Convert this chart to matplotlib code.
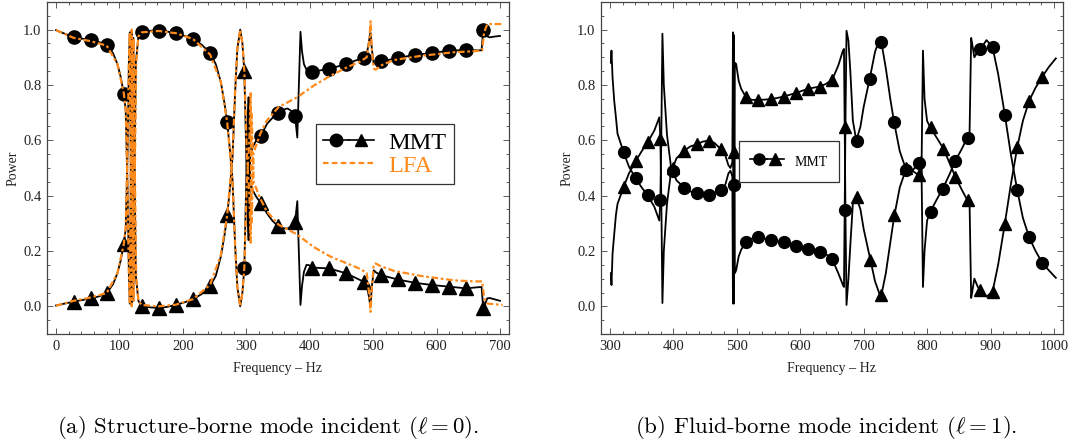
import matplotlib
matplotlib.use('Agg')
import matplotlib.pyplot as plt
from matplotlib.lines import Line2D
from matplotlib.legend_handler import HandlerTuple
from matplotlib.ticker import MultipleLocator, FormatStrFormatter

plt.rcParams['font.family'] = 'Liberation Serif'
plt.rcParams['mathtext.fontset'] = 'cm'

orange = '#ff8a1c'
frame_col = '#444444'

# ---------------- (a) structure-borne incident ----------------
# marker positions (every ~27 Hz)
a_mark_f = [28, 55, 80, 107, 135, 162, 189, 216, 243, 270, 297, 323, 350,
            377, 404, 431, 458, 485, 512, 539, 566, 593, 620, 647, 674]
a_mark_circ = [0.972, 0.962, 0.944, 0.768, 0.992, 0.996, 0.987, 0.966, 0.915,
               0.665, 0.139, 0.617, 0.698, 0.686, 0.848, 0.858, 0.876, 0.899,
               0.885, 0.897, 0.909, 0.915, 0.924, 0.926, 0.998]
a_mark_tri = [0.017, 0.029, 0.047, 0.224, 0.0, -0.007, 0.005, 0.025, 0.073,
              0.329, 0.849, 0.373, 0.29, 0.305, 0.14, 0.137, 0.119, 0.089,
              0.113, 0.097, 0.085, 0.077, 0.071, 0.065, -0.005]

# MMT curves
a_f = [0, 14, 28, 42, 55, 68, 80, 90, 97, 102,
       107, 110, 113, 115, 116.5, 118, 119.3, 120.5, 122, 124,
       126, 130, 135, 150, 162, 175, 189, 202, 216, 230,
       243, 252, 260, 266, 270, 274.5, 278.4, 282.6, 286, 290.5,
       294, 297, 300, 303.3, 304.2, 306.3, 310, 316, 323, 333,
       341, 350, 358, 365, 372, 377, 380.5, 385.5, 388, 391,
       395, 400, 404, 431, 458, 485, 490, 493, 495.8, 498,
       501, 505, 512, 539, 566, 593, 620, 647, 660, 671,
       673.5, 676, 680, 684, 692, 700]
a_circ = [0.998, 0.985, 0.972, 0.967, 0.962, 0.955, 0.944, 0.915, 0.875, 0.83,
          0.768, 0.71, 0.42, 0.12, 0.01, 0.45, 0.995, 0.5, 0.02, 0.5,
          0.88, 0.975, 0.992, 0.996, 0.996, 0.993, 0.987, 0.978, 0.966, 0.945,
          0.915, 0.875, 0.81, 0.73, 0.665, 0.56, 0.455, 0.215, 0.07, 0.0,
          0.05, 0.139, 0.45, 0.755, 0.24, 0.545, 0.575, 0.6, 0.617, 0.66,
          0.68, 0.698, 0.71, 0.715, 0.705, 0.686, 0.61, 0.992, 0.92, 0.875,
          0.855, 0.85, 0.848, 0.858, 0.876, 0.899, 0.91, 0.95, 0.99, 0.93,
          0.876, 0.88, 0.885, 0.897, 0.909, 0.915, 0.924, 0.926, 0.925, 0.925,
          0.998, 0.99, 0.975, 0.972, 0.975, 0.977]
a_tri = [0.003, 0.01, 0.017, 0.023, 0.029, 0.036, 0.047, 0.08, 0.12, 0.165,
         0.224, 0.28, 0.56, 0.88, 0.99, 0.52, 0.005, 0.49, 0.97, 0.48,
         0.11, 0.02, 0.0, -0.004, -0.006, -0.002, 0.005, 0.014, 0.025, 0.045,
         0.073, 0.11, 0.18, 0.26, 0.329, 0.43, 0.54, 0.78, 0.93, 1.0,
         0.95, 0.849, 0.55, 0.24, 0.755, 0.45, 0.42, 0.395, 0.373, 0.335,
         0.31, 0.29, 0.282, 0.281, 0.29, 0.305, 0.38, 0.005, 0.075, 0.125,
         0.15, 0.148, 0.14, 0.137, 0.119, 0.089, 0.075, 0.04, 0.0, 0.07,
         0.13, 0.122, 0.113, 0.097, 0.085, 0.077, 0.071, 0.065, 0.068, 0.07,
         -0.005, 0.005, 0.029, 0.03, 0.025, 0.02]

# LFA curves
lfa_f = [0, 28, 55, 80, 97, 107, 110, 113, 115, 116.5,
         118, 119.5, 121, 122.5, 124.5, 126.5, 130, 135, 162, 189,
         216, 243, 260, 270, 278.4, 282.6, 286, 290.5, 294, 297,
         301, 305, 307, 308.5, 311.6, 322, 332, 351, 380, 406,
         432.6, 459, 480, 490, 494, 496, 498, 501, 504, 512,
         533, 575, 627, 660, 672, 675, 680, 704]
lfa_up = [0.998, 0.97, 0.958, 0.942, 0.875, 0.77, 0.71, 0.42, 0.12, 0.01,
          0.45, 1.0, 0.5, 0.02, 0.5, 0.88, 0.975, 0.99, 0.995, 0.987,
          0.966, 0.91, 0.81, 0.665, 0.455, 0.215, 0.07, 0.0, 0.05, 0.14,
          0.45, 0.6, 0.77, 0.3, 0.555, 0.623, 0.67, 0.72, 0.755, 0.797,
          0.833, 0.864, 0.885, 0.9, 0.96, 1.03, 0.93, 0.86, 0.855, 0.87,
          0.89, 0.905, 0.918, 0.922, 0.925, 0.99, 1.02, 1.02]
lfa_lo = [0.002, 0.02, 0.032, 0.048, 0.12, 0.225, 0.285, 0.57, 0.88, 0.99,
          0.52, 0.0, 0.49, 0.97, 0.48, 0.11, 0.02, 0.005, 0.0, 0.006,
          0.026, 0.078, 0.185, 0.33, 0.545, 0.785, 0.93, 1.0, 0.95, 0.85,
          0.55, 0.4, 0.23, 0.7, 0.45, 0.39, 0.345, 0.295, 0.26, 0.215,
          0.18, 0.155, 0.135, 0.12, 0.04, -0.02, 0.07, 0.15, 0.155, 0.145,
          0.128, 0.11, 0.094, 0.09, 0.09, 0.03, 0.01, 0.005]

# ---------------- (b) fluid-borne incident ----------------
b_mark_f = [321.6, 340.5, 359.5, 379, 399, 417.4, 436.9, 455.8, 475.3, 495.3,
            514.7, 534.2, 554.3, 573.7, 592.7, 612.2, 630.5, 650.5, 670, 689.5,
            709.5, 728, 748, 767.4, 787, 805.8, 825.4, 844.8, 864.8, 884.2,
            903.2, 922.6, 942.2, 961, 981.6]
b_mark_circ = [0.557, 0.463, 0.401, 0.386, 0.489, 0.429, 0.409, 0.404, 0.421, 0.437,
               0.233, 0.249, 0.239, 0.231, 0.218, 0.206, 0.197, 0.17, 0.347, 0.599,
               0.822, 0.954, 0.665, 0.491, 0.519, 0.341, 0.425, 0.524, 0.608, 0.93,
               0.936, 0.692, 0.419, 0.249, 0.157]
b_mark_tri = [0.431, 0.524, 0.593, 0.605, 0.50, 0.563, 0.585, 0.599, 0.567, 0.557,
              0.755, 0.746, 0.749, 0.758, 0.771, 0.786, 0.794, 0.819, 0.647, 0.395,
              0.167, 0.041, 0.329, 0.50, 0.473, 0.647, 0.569, 0.467, 0.383, 0.059,
              0.053, 0.299, 0.575, 0.743, 0.83]

b_f = [301.5, 302.5, 304.2, 306.8, 309.5, 312, 321.6, 330, 340.5, 350,
       359.5, 370, 377.9, 379.5, 381, 382.8, 385, 390, 396, 399,
       405, 417.4, 427, 436.9, 446, 455.8, 465, 475.3, 482, 486.8,
       490, 493, 494, 495.5, 497, 499, 503, 507, 514.7, 524,
       534.2, 544, 554.3, 564, 573.7, 583, 592.7, 602, 612.2, 621,
       630.5, 640, 650.5, 660, 667.4, 669, 671.5, 673, 676, 679,
       683, 688.4, 695, 700, 709.5, 718, 725, 728, 735, 742,
       748, 757, 767.4, 777, 787, 791, 793.5, 796, 800, 805,
       815, 826, 835, 844.8, 855, 863.7, 867, 869.5, 871, 874.5,
       880, 884.2, 893.7, 903.2, 912, 922.6, 932, 942.2, 951, 961,
       971, 981.6, 992, 1003]
b_circ = [0.88, 0.924, 0.827, 0.743, 0.683, 0.624, 0.557, 0.505, 0.463, 0.43,
          0.401, 0.36, 0.31, 0.38, 0.6, 0.985, 0.8, 0.62, 0.51, 0.489,
          0.455, 0.429, 0.415, 0.409, 0.404, 0.404, 0.41, 0.421, 0.44, 0.48,
          0.49, 0.47, 0.01, 0.98, 0.12, 0.13, 0.18, 0.205, 0.233, 0.245,
          0.249, 0.245, 0.239, 0.235, 0.231, 0.225, 0.218, 0.212, 0.206, 0.202,
          0.197, 0.19, 0.17, 0.12, 0.077, 0.07, 0.7, 0.996, 0.96, 0.85,
          0.671, 0.599, 0.65, 0.72, 0.822, 0.92, 0.965, 0.954, 0.86, 0.75,
          0.665, 0.56, 0.491, 0.49, 0.521, 0.54, 0.07, 0.2, 0.31, 0.341,
          0.385, 0.431, 0.475, 0.527, 0.57, 0.611, 0.63, 0.97, 0.95, 0.9,
          0.92, 0.93, 0.962, 0.936, 0.84, 0.692, 0.55, 0.419, 0.32, 0.249,
          0.2, 0.157, 0.13, 0.103]
b_tri = [0.12, 0.077, 0.19, 0.26, 0.33, 0.37, 0.431, 0.48, 0.524, 0.56,
         0.593, 0.635, 0.683, 0.61, 0.4, 0.012, 0.2, 0.37, 0.48, 0.50,
         0.535, 0.563, 0.578, 0.585, 0.595, 0.599, 0.59, 0.567, 0.545, 0.51,
         0.50, 0.52, 0.99, 0.01, 0.88, 0.876, 0.815, 0.786, 0.755, 0.746,
         0.746, 0.747, 0.749, 0.753, 0.758, 0.764, 0.771, 0.778, 0.786, 0.79,
         0.794, 0.803, 0.819, 0.87, 0.924, 0.93, 0.3, 0.005, 0.1, 0.22,
         0.371, 0.395, 0.35, 0.28, 0.18, 0.09, 0.045, 0.041, 0.12, 0.23,
         0.323, 0.43, 0.50, 0.49, 0.473, 0.45, 0.924, 0.75, 0.67, 0.647,
         0.61, 0.569, 0.52, 0.467, 0.42, 0.383, 0.37, 0.03, 0.05, 0.1,
         0.07, 0.059, 0.035, 0.053, 0.15, 0.299, 0.44, 0.575, 0.67, 0.743,
         0.79, 0.83, 0.865, 0.896]


def style_axes(ax, xmin, xmax, xticks):
    ax.set_xlim(xmin, xmax)
    ax.set_ylim(-0.1, 1.1)
    ax.set_xticks(xticks)
    ax.xaxis.set_minor_locator(MultipleLocator(20))
    ax.yaxis.set_major_locator(MultipleLocator(0.2))
    ax.yaxis.set_minor_locator(MultipleLocator(0.05))
    ax.yaxis.set_major_formatter(FormatStrFormatter('%.1f'))
    ax.tick_params(which='both', direction='in', top=True, right=True,
                   color=frame_col, width=0.6, labelsize=10.5,
                   labelcolor='#222222', pad=4)
    ax.tick_params(which='major', length=4)
    ax.tick_params(which='minor', length=2)
    for sp in ax.spines.values():
        sp.set_color(frame_col)
        sp.set_linewidth(0.9)
    ax.set_xlabel('Frequency \u2013 Hz', fontsize=10, color='#222222')
    ax.set_ylabel('Power', fontsize=10, color='#222222')
    ax.xaxis.set_label_coords(0.5, -0.085)
    ax.yaxis.set_label_coords(-0.06, 0.5)


fig = plt.figure(figsize=(10.74, 4.44), dpi=100)
ax1 = fig.add_axes([0.0438, 0.2477, 0.430, 0.748])
ax2 = fig.add_axes([0.5596, 0.2477, 0.430, 0.748])

# panel (a)
ax1.plot(a_f, a_circ, color='k', lw=1.3, zorder=2)
ax1.plot(a_f, a_tri, color='k', lw=1.3, zorder=2)
ax1.plot(a_mark_f, a_mark_circ, ls='none', marker='o', ms=9.5, color='k', zorder=3)
ax1.plot(a_mark_f, a_mark_tri, ls='none', marker='^', ms=10, color='k', zorder=3)
ax1.plot(lfa_f, lfa_up, color=orange, lw=1.6, dashes=(3, 1.2, 1.2, 1.2), zorder=4)
ax1.plot(lfa_f, lfa_lo, color=orange, lw=1.6, dashes=(3, 1.2, 1.2, 1.2), zorder=4)
style_axes(ax1, -14, 714, range(0, 701, 100))

h_c = Line2D([], [], color='k', lw=1.2, marker='o', ms=9)
h_t = Line2D([], [], color='k', lw=1.2, marker='^', ms=9)
h_l = Line2D([], [], color=orange, lw=1.6, dashes=(2.5, 1.5))
leg1 = ax1.legend([(h_c, h_t), h_l], ['MMT', 'LFA'],
                  handler_map={tuple: HandlerTuple(ndivide=None, pad=0.0)},
                  loc='center', bbox_to_anchor=(0.7315, 0.541), fontsize=17.5,
                  fancybox=False, framealpha=1, edgecolor='#333333',
                  handlelength=2.1, handletextpad=0.6, borderpad=0.3,
                  labelspacing=0.05, numpoints=1)
leg1.get_frame().set_linewidth(0.9)
leg1.get_texts()[1].set_color(orange)

# panel (b)
ax2.plot(b_f, b_circ, color='k', lw=1.3, zorder=2)
ax2.plot(b_f, b_tri, color='k', lw=1.3, zorder=2)
ax2.plot(b_mark_f, b_mark_circ, ls='none', marker='o', ms=8.5, color='k', zorder=3)
ax2.plot(b_mark_f, b_mark_tri, ls='none', marker='^', ms=9, color='k', zorder=3)
style_axes(ax2, 286, 1014, range(300, 1001, 100))

h_c2 = Line2D([], [], color='k', lw=1.2, marker='o', ms=8)
h_t2 = Line2D([], [], color='k', lw=1.2, marker='^', ms=8.5)
leg2 = ax2.legend([(h_c2, h_t2)], ['MMT'],
                  handler_map={tuple: HandlerTuple(ndivide=None, pad=0.0)},
                  loc='center', bbox_to_anchor=(0.407, 0.5196), fontsize=10,
                  fancybox=False, framealpha=1, edgecolor='#333333',
                  handlelength=2.4, handleheight=1.7, handletextpad=0.8,
                  borderpad=0.8, numpoints=1)
leg2.get_frame().set_linewidth(0.9)

# captions
fig.text(0.25, 0.038, r'(a) Structure-borne mode incident ($\ell = 0$).',
         family='cmr10', fontsize=16.5, ha='center', va='center')
fig.text(0.769, 0.038, r'(b) Fluid-borne mode incident ($\ell = 1$).',
         family='cmr10', fontsize=16.5, ha='center', va='center')

fig.savefig('out.png', dpi=100)
